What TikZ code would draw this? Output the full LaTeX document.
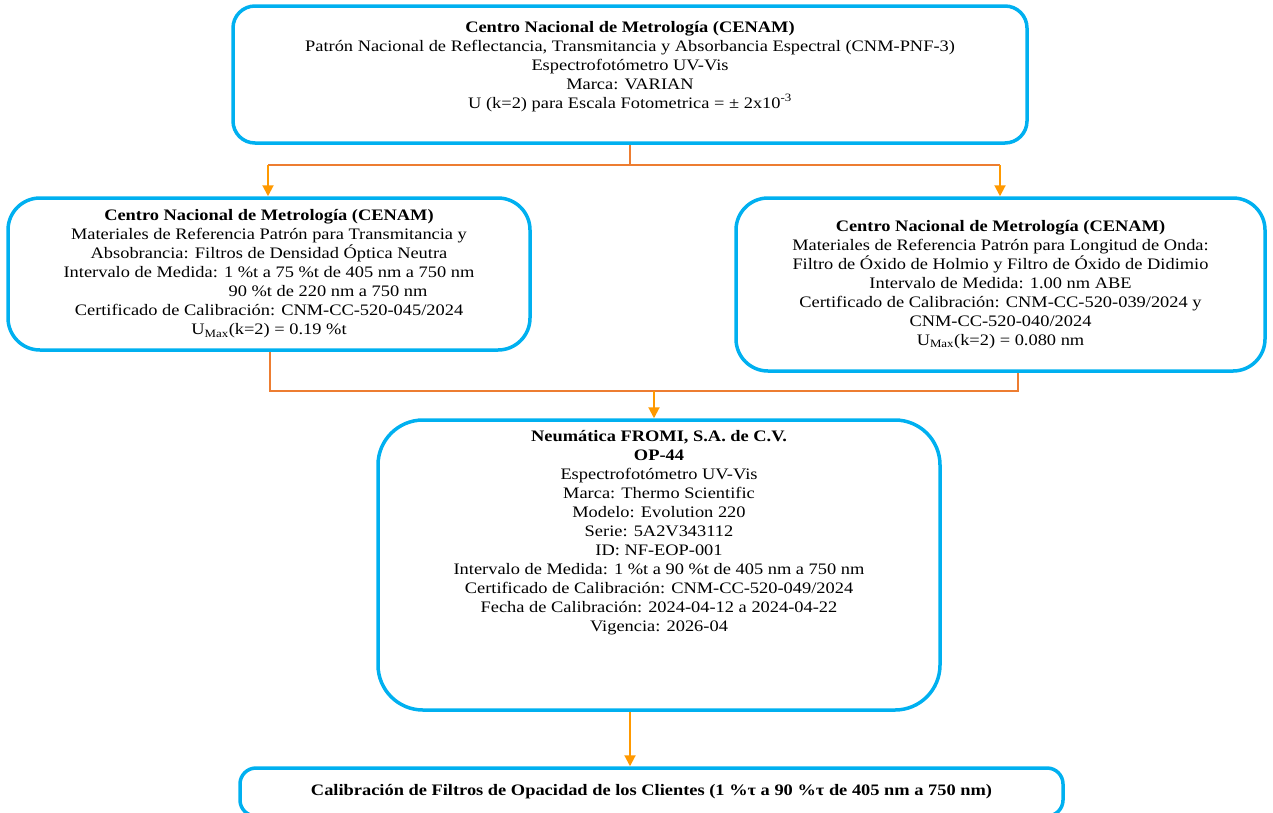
\documentclass[tikz,border=0pt]{standalone}
\usepackage{fontspec}
\setmainfont{Liberation Serif}[FakeStretch=1.15]
\usepackage{tikz}
\usetikzlibrary{arrows.meta}

\definecolor{boxblue}{RGB}{0,176,240}
\definecolor{lineorange}{RGB}{237,125,49}
\definecolor{tiporange}{RGB}{255,153,0}

\tikzset{
    card/.style={draw=boxblue, line width=3.5pt, align=center, inner sep=0pt,
        font=\fontsize{16}{19}\selectfont},
    link/.style={draw=lineorange, line width=1.8pt},
    feed/.style={draw=tiporange, line width=2pt, -{Triangle[width=11pt,length=11pt]}}
}

\begin{document}
\begin{tikzpicture}[x=1pt, y=-1pt]
            \useasboundingbox (0,0) rectangle (1273,812);

            \node [card, rounded corners=22pt, minimum width=794pt, minimum height=137pt] (nacional) at (630, 74.5) {\textbf{Centro Nacional de Metrología (CENAM)}\\ Patrón Nacional de Reflectancia, Transmitancia y Absorbancia Espectral (CNM-PNF-3)\\ Espectrofotómetro UV-Vis\\ Marca: VARIAN\\ U (k=2) para Escala Fotometrica = ± 2x10\textsuperscript{-3}\\[1pt]{}};
            \node [card, rounded corners=32pt, minimum width=522pt, minimum height=152pt] (transm) at (269, 274) {\textbf{Centro Nacional de Metrología (CENAM)}\\ Materiales de Referencia Patrón para Transmitancia y\\ Absobrancia: Filtros de Densidad Óptica Neutra\\ Intervalo de Medida: 1 \%t a 75 \%t de 405 nm a 750 nm\\ \hspace*{118pt}90 \%t de 220 nm a 750 nm\\ Certificado de Calibración: CNM-CC-520-045/2024\\ U\textsubscript{Max}(k=2) = 0.19 \%t};
            \node [card, rounded corners=32pt, minimum width=529pt, minimum height=173pt] (onda) at (1000.5, 284.5) {\textbf{Centro Nacional de Metrología (CENAM)}\\ Materiales de Referencia Patrón para Longitud de Onda:\\ Filtro de Óxido de Holmio y Filtro de Óxido de Didimio\\ Intervalo de Medida: 1.00 nm ABE\\ Certificado de Calibración: CNM-CC-520-039/2024 y\\ CNM-CC-520-040/2024\\ U\textsubscript{Max}(k=2) = 0.080 nm};
            \node [card, rounded corners=45pt, minimum width=562pt, minimum height=290pt] (fromi) at (659, 565) {\textbf{Neumática FROMI, S.A. de C.V.}\\ \textbf{OP-44}\\ Espectrofotómetro UV-Vis\\ Marca: Thermo Scientific\\ Modelo: Evolution 220\\ Serie: 5A2V343112\\ ID: NF-EOP-001\\ Intervalo de Medida: 1 \%t a 90 \%t de 405 nm a 750 nm\\ Certificado de Calibración: CNM-CC-520-049/2024\\ Fecha de Calibración: 2024-04-12 a 2024-04-22\\ Vigencia: 2026-04\\[49pt]{}};
            \node [card, rounded corners=16pt, minimum width=823pt, minimum height=48pt] (clientes) at (651.5, 792) {\textbf{Calibración de Filtros de Opacidad de los Clientes (1 \%τ a 90 \%τ de 405 nm a 750 nm)}};

            \coordinate (splitL) at (268, 165);
            \coordinate (splitR) at (1000, 165);
            \coordinate (joinL) at (270, 391);
            \coordinate (joinR) at (1018, 391);
            \coordinate (joinM) at (654, 391);

            \draw [link] (nacional.south) |- (splitL);
            \draw [link] (nacional.south) |- (splitR);
            \draw [feed] (splitL) -- (splitL |- transm.north);
            \draw [feed] (splitR) -- (splitR |- onda.north);

            \draw [link] (joinL |- transm.south) -- (joinL) -- (joinR) -- (joinR |- onda.south);
            \draw [feed] (joinM) -- (joinM |- fromi.north);
            \draw [feed] ([xshift=-29pt]fromi.south) -- ([xshift=-21.5pt]clientes.north);
        \end{tikzpicture}
\end{document}
